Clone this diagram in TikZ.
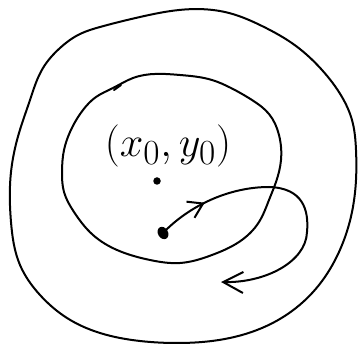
\documentclass[tikz,border=0pt]{standalone}
\usepackage{graphicx}
\usetikzlibrary{arrows.meta,decorations.markings,shapes.geometric,hobby}
\begin{document}
\begin{tikzpicture}[x=1pt,y=-1pt,
  pen/.style={line width=2pt,line cap=round,line join=round},
  dotsmall/.style={circle,fill=black,inner sep=0pt,minimum size=7.5pt},
  dotbig/.style={ellipse,fill=black,inner sep=0pt,minimum width=10pt,minimum height=13pt},
  label/.style={inner sep=0pt}]
\useasboundingbox[fill=white] (0,0) rectangle (359,347);
% outer curve
\draw[pen,use Hobby shortcut,closed=true]
 (179,10) .. (229,13) .. (262,26) .. (296,46) .. (322,70) .. (342,97) .. (352,120)
 .. (356,150) .. (356,180) .. (352,212) .. (339,252) .. (319,285) .. (292,311)
 .. (262,328) .. (219,340) .. (179,343) .. (140,341) .. (100,333) .. (67,318)
 .. (40,295) .. (20,265) .. (11,222) .. (11,172) .. (19,133) .. (30,100)
 .. (43,68) .. (60,48) .. (80,34) .. (100,27) .. (140,17);
% inner curve
\draw[pen,use Hobby shortcut,closed=true]
 (133,78) .. (180,75) .. (212,80) .. (231,88) .. (252,100) .. (269,114)
 .. (279,135) .. (281,160) .. (276,182) .. (269,200) .. (259,222) .. (239,242)
 .. (212,255) .. (180,263) .. (150,260) .. (117,250) .. (93,235) .. (74,212)
 .. (64,192) .. (62,172) .. (64,150) .. (70,132) .. (83,110) .. (96,97)
 .. (113,88);
\draw[pen] (121,85) -- (114,90);
% label and points
\node[label] (lab) at (168,146) {\scalebox{1.7}{\Huge$(x_0,y_0)$}};
\node[dotsmall] (c) at (157,181) {};
\node[dotbig,rotate=30] (p) at (163,233) {};
\coordinate (e) at (221,282);
% trajectory
\draw[pen,-{Straight Barb[length=20pt,width=21pt]},
  postaction={decorate},
  decoration={markings,mark=at position 0.175 with {\arrow{Straight Barb[length=14pt,width=18pt]}}}]
  (p.center) .. controls (190,205) and (230,187) .. (269,187)
  .. controls (303,188) and (309,210) .. (307,232)
  .. controls (306,262) and (265,283) .. (e);
\end{tikzpicture}
\end{document}
